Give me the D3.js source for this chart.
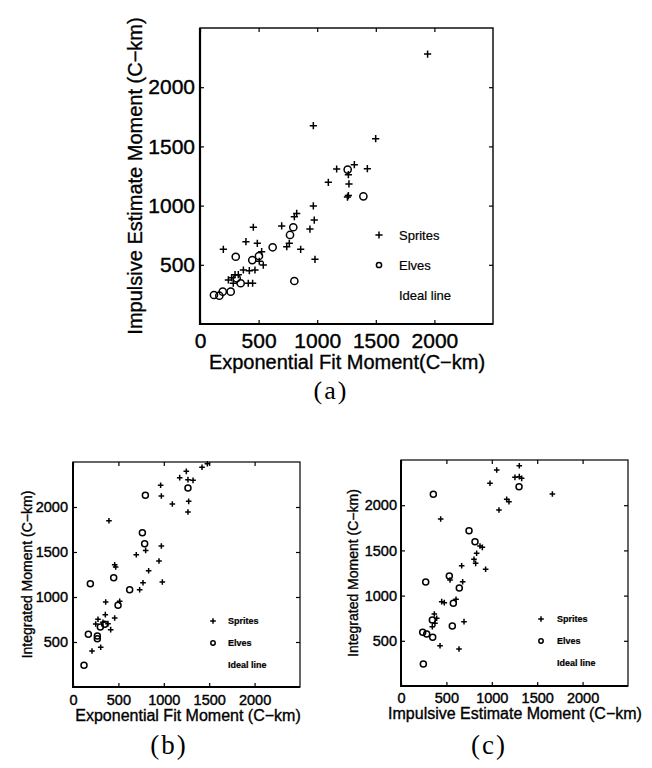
<!DOCTYPE html>
<html>
<head>
<meta charset="utf-8">
<script src="https://cdn.jsdelivr.net/npm/d3@7"></script>
<style>
  html, body { margin: 0; padding: 0; background: #fff; }
  svg { display: block; }
</style>
</head>
<body>
<div id="chart"></div>
<script>
// --- data ---
const xTicks = [0, 500, 1000, 1500, 2000];
const yTicks = [500, 1000, 1500, 2000];
const legendLabels = ["Sprites", "Elves", "Ideal line"];

// (a) exponential fit vs impulsive estimate
const spritesA = [
  [1942, 2280], [967, 1675], [1499, 1565], [1166, 1309], [1317, 1346], [1428, 1312],
  [1266, 1261], [1095, 1197], [1271, 1183], [1258, 1072], [1266, 1085], [967, 997],
  [825, 934], [805, 906], [975, 878], [697, 828], [938, 802], [455, 817], [392, 695],
  [489, 681], [740, 653], [762, 681], [859, 631], [199, 631], [526, 611], [981, 546],
  [540, 498], [506, 530], [370, 456], [421, 450], [469, 456], [270, 391], [299, 417],
  [242, 372], [284, 344], [412, 344], [449, 344], [327, 417]
];
const elvesA = [
  [1260, 1304], [1394, 1078], [796, 817], [768, 752], [620, 648], [305, 568],
  [446, 540], [503, 574], [805, 363], [313, 386], [347, 344], [262, 273],
  [194, 273], [165, 239], [119, 245]
];

// (b) exponential fit vs integrated
const spritesB = [
  [1480, 2480], [1421, 2441], [1248, 2396], [1175, 2326], [1266, 2304], [1322, 2296],
  [965, 2241], [973, 2122], [1094, 2033], [1274, 2063], [1266, 1944], [396, 1848],
  [973, 1567], [800, 1518], [697, 1470], [947, 1400], [470, 1333], [459, 1359],
  [833, 1292], [771, 1159], [984, 1167], [734, 1081], [514, 952], [360, 944],
  [356, 804], [275, 752], [459, 767], [415, 637], [209, 400], [305, 441], [385, 704],
  [330, 720], [250, 700]
];
const elvesB = [
  [1266, 2211], [797, 2130], [764, 1715], [789, 1593], [448, 1215], [191, 1148],
  [624, 1081], [496, 907], [301, 667], [349, 696], [268, 567], [268, 537],
  [169, 585], [121, 241]
];

// (c) impulsive estimate vs integrated
const spritesC = [
  [1303, 2437], [1054, 2389], [1255, 2308], [1303, 2316], [1329, 2297], [980, 2242],
  [1667, 2124], [1164, 2065], [1189, 2039], [1079, 1947], [437, 1847], [896, 1534],
  [870, 1549], [833, 1468], [804, 1401], [822, 1357], [668, 1331], [932, 1291],
  [540, 1173], [679, 1154], [606, 959], [448, 933], [477, 922], [367, 797],
  [393, 749], [374, 693], [345, 656], [694, 712], [430, 446], [639, 409]
];
const elvesC = [
  [1300, 2205], [356, 2120], [749, 1718], [815, 1597], [532, 1217], [272, 1151],
  [642, 1084], [576, 915], [345, 730], [565, 664], [239, 594], [283, 575],
  [349, 539], [246, 244]
];

const W = 652, H = 768;
const svg = d3.select("#chart").append("svg")
  .attr("width", W).attr("height", H)
  .style("background", "#fff");

const sans = "'Liberation Sans', Arial, Helvetica, sans-serif";
const serif = "'Liberation Serif', 'Times New Roman', serif";
const fmt = d3.format("d");

// scanned type looks a little heavy, so give sans text a thin outline
function heavy(sel, w) {
  return sel.attr("stroke", "#000").attr("stroke-width", w).attr("fill", "#000");
}

function drawPanel(o) {
  const x = d3.scaleLinear().domain([0, 2500]).range([o.left, o.right]);
  const y = d3.scaleLinear().domain([0, 2500]).range([o.bottom, o.top]);
  const g = svg.append("g");

  // Axes, ticks pointing inward
  const bx = g.append("g").attr("transform", `translate(0,${o.bottom})`)
    .call(d3.axisBottom(x).tickValues(xTicks).tickFormat(fmt).tickSize(-4).tickPadding(o.xPad));
  const ly = g.append("g").attr("transform", `translate(${o.left},0)`)
    .call(d3.axisLeft(y).tickValues(yTicks).tickFormat(fmt).tickSize(-4).tickPadding(o.yPad));
  g.append("g").attr("transform", `translate(0,${o.top})`)
    .call(d3.axisTop(x).tickValues(xTicks).tickSize(-4).tickFormat(""));
  g.append("g").attr("transform", `translate(${o.right},0)`)
    .call(d3.axisRight(y).tickValues(yTicks).tickSize(-4).tickFormat(""));
  g.selectAll(".domain").remove();
  g.selectAll(".tick line").attr("stroke", "#000").attr("stroke-width", 1.2);
  [bx, ly].forEach(a => heavy(a.selectAll("text"), 0.4)
    .style("font-family", sans)
    .style("font-size", o.tickFont + "px"));

  // Frame
  g.append("rect")
    .attr("x", o.left).attr("y", o.top)
    .attr("width", o.right - o.left).attr("height", o.bottom - o.top)
    .attr("fill", "none").attr("stroke", "#000").attr("stroke-width", o.frame);
  g.append("path")
    .attr("d", `M${o.left},${o.top}V${o.bottom}H${o.right}`)
    .attr("fill", "none").attr("stroke", "#000").attr("stroke-width", o.frame + 0.8);

  // Markers
  const h = o.plus;
  g.append("g").selectAll("path").data(o.sprites).join("path")
    .attr("d", d => `M${x(d[0]) - h},${y(d[1])}h${2 * h}M${x(d[0])},${y(d[1]) - h}v${2 * h}`)
    .attr("stroke", "#000").attr("stroke-width", o.mw).attr("fill", "none");
  g.append("g").selectAll("circle").data(o.elves).join("circle")
    .attr("cx", d => x(d[0])).attr("cy", d => y(d[1])).attr("r", o.r)
    .attr("stroke", "#000").attr("stroke-width", o.mw).attr("fill", "none");

  // Legend
  const lg = g.append("g");
  legendLabels.forEach((lab, i) => {
    const ly0 = o.legY + i * o.legStep;
    if (i === 0) {
      lg.append("path")
        .attr("d", `M${o.legX - h},${ly0}h${2 * h}M${o.legX},${ly0 - h}v${2 * h}`)
        .attr("stroke", "#000").attr("stroke-width", o.mw);
    } else if (i === 1) {
      lg.append("circle").attr("cx", o.legX).attr("cy", ly0).attr("r", o.legR)
        .attr("stroke", "#000").attr("stroke-width", o.mw).attr("fill", "none");
    }
    heavy(lg.append("text"), 0.2)
      .attr("x", o.legTextX).attr("y", ly0 + o.legFont * 0.35)
      .style("font-family", sans).style("font-size", o.legFont + "px")
      .style("font-weight", o.legWeight)
      .text(lab);
  });

  // Axis titles
  heavy(g.append("text"), 0.35)
    .attr("x", o.xLabX).attr("y", o.xLabY)
    .attr("text-anchor", "middle")
    .style("font-family", sans).style("font-size", o.labFont + "px")
    .text(o.xLabel);
  heavy(g.append("text"), 0.35)
    .attr("transform", `translate(${o.yLabX},${(o.top + o.bottom) / 2}) rotate(-90)`)
    .attr("text-anchor", "middle")
    .style("font-family", sans).style("font-size", o.yLabFont + "px")
    .text(o.yLabel);

  // Caption
  g.append("text")
    .attr("x", o.capX).attr("y", o.capY)
    .attr("text-anchor", "middle")
    .style("font-family", serif).style("font-size", o.capFont + "px")
    .style("letter-spacing", "2px")
    .text(o.caption);
}

drawPanel({
  left: 200, right: 493, top: 28, bottom: 324,
  sprites: spritesA, elves: elvesA,
  xPad: 9, yPad: 5, tickFont: 21, labFont: 20, yLabFont: 20, frame: 1.4,
  plus: 3.6, r: 3.6, mw: 1.5,
  legX: 379, legY: 235, legStep: 30, legTextX: 399, legR: 2.6, legFont: 13, legWeight: "normal",
  xLabel: "Exponential Fit Moment(C\u2212km)", xLabX: 347, xLabY: 369,
  yLabel: "Impulsive Estimate Moment (C\u2212km)", yLabX: 142,
  caption: "(a)", capX: 331, capY: 399, capFont: 26
});

drawPanel({
  left: 73, right: 300, top: 462, bottom: 687,
  sprites: spritesB, elves: elvesB,
  xPad: 8, yPad: 5, tickFont: 14.5, labFont: 16, yLabFont: 14, frame: 1.2,
  plus: 2.8, r: 3, mw: 1.5,
  legX: 213, legY: 621, legStep: 22, legTextX: 228, legR: 2.2, legFont: 9, legWeight: "bold",
  xLabel: "Exponential Fit Moment (C\u2212km)", xLabX: 188, xLabY: 721,
  yLabel: "Integrated Moment (C\u2212km)", yLabX: 32,
  caption: "(b)", capX: 169, capY: 754, capFont: 27
});

drawPanel({
  left: 401, right: 628, top: 460, bottom: 686,
  sprites: spritesC, elves: elvesC,
  xPad: 7, yPad: 4, tickFont: 14.5, labFont: 16, yLabFont: 14, frame: 1.2,
  plus: 2.8, r: 3, mw: 1.5,
  legX: 541, legY: 619, legStep: 22, legTextX: 557, legR: 2.2, legFont: 9, legWeight: "bold",
  xLabel: "Impulsive Estimate Moment (C\u2212km)", xLabX: 515, xLabY: 719,
  yLabel: "Integrated Moment (C\u2212km)", yLabX: 358,
  caption: "(c)", capX: 489, capY: 754, capFont: 27
});
</script>
</body>
</html>
